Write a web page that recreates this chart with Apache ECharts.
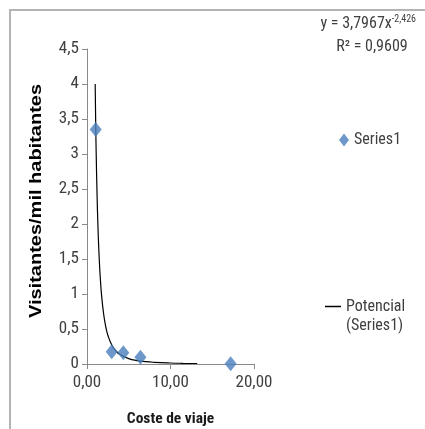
<!DOCTYPE html>
<html><head><meta charset="utf-8">
<script src="https://cdn.jsdelivr.net/npm/echarts@6/dist/echarts.min.js"></script>
<style>html,body{margin:0;padding:0;background:#fff}#c{width:425px;height:429px}</style>
</head><body><div id="c"></div>
<script>
// Observed data points (Coste de viaje, Visitantes/mil habitantes)
const costeViaje = [1.04, 2.96, 4.35, 6.4, 17.2];
const visitantes = [3.35, 0.176, 0.16, 0.095, 0.003];
// Points read along the "Potencial (Series1)" trend curve
const trendX = [0.98, 1.05, 1.1, 1.2, 1.3, 1.4, 1.5, 1.6, 1.75, 2, 2.25, 2.5, 3, 3.5, 4, 5, 6, 7, 8, 10, 11.5, 13.2];
const trendY = [4.0, 3.373, 3.013, 2.44, 2.009, 1.678, 1.42, 1.214, 0.977, 0.707, 0.531, 0.411, 0.264, 0.182, 0.1315, 0.0765, 0.0492, 0.0338, 0.0245, 0.01425, 0.0101, 0.0073];
const xTicks = [0, 10, 20];
const yTicks = [0, 0.5, 1, 1.5, 2, 2.5, 3, 3.5, 4, 4.5];
const equationText = ['y = 3,7967x', '-2,426', 'R² = 0,9609'];
const xTitle = 'Coste de viaje';
const yTitle = 'Visitantes/mil habitantes';

const chart = echarts.init(document.getElementById('c'), null, {renderer: 'canvas'});
const narrow = "'Roboto Condensed', 'Liberation Sans', sans-serif";
const comma = v => String(v).replace('.', ',');
const option = {
  animation: false,
  backgroundColor: '#fff',
  grid: {left: 87, right: 171, top: 49, bottom: 65, containLabel: false, outerBoundsMode: 'none'},
  xAxis: {
    type: 'value', min: xTicks[0], max: xTicks[xTicks.length - 1], interval: 10,
    name: xTitle, nameLocation: 'middle', nameGap: 47,
    nameTextStyle: {fontFamily: narrow, fontSize: 15.5, fontWeight: 'bold', color: '#1a1a1a'},
    axisLine: {show: true, lineStyle: {color: '#8a8a8a', width: 1}},
    axisTick: {show: true, inside: false, length: 5, lineStyle: {color: '#8a8a8a'}},
    axisLabel: {fontFamily: narrow, fontSize: 17, color: '#404040', margin: 10,
      formatter: v => v.toFixed(2).replace('.', ',')},
    splitLine: {show: false}
  },
  yAxis: {
    type: 'value', min: yTicks[0], max: yTicks[yTicks.length - 1], interval: 0.5,
    axisLine: {show: true, lineStyle: {color: '#8a8a8a', width: 1}},
    axisTick: {show: true, inside: false, length: 5, lineStyle: {color: '#8a8a8a'}},
    axisLabel: {fontFamily: narrow, fontSize: 17, color: '#404040', margin: 8, formatter: comma},
    splitLine: {show: false}
  },
  legend: [
    {data: [{name: 'Series1', icon: 'diamond'}], left: 334, top: 127, orient: 'vertical',
      itemWidth: 10, itemHeight: 13, itemGap: 4,
      textStyle: {fontFamily: narrow, fontSize: 16, color: '#404040'}},
    {data: [{name: 'Potencial (Series1)', icon: 'rect'}], left: 325, top: 278, orient: 'vertical',
      itemWidth: 16, itemHeight: 1.5, itemGap: 4, padding: 0,
      formatter: () => ' \nPotencial\n(Series1)',
      textStyle: {fontFamily: narrow, fontSize: 16, color: '#404040', lineHeight: 19}}
  ],
  graphic: [
    {type: 'polyline', shape: {points: [[10, 440], [10, 10], [440, 10]]},
      style: {stroke: '#b4b4b4', lineWidth: 2, fill: null}, silent: true},
    {type: 'text', x: 416, y: 14, style: {
      text: '{a|' + equationText[0] + '}{s|' + equationText[1] + '}', align: 'right',
      rich: {a: {fontFamily: narrow, fontSize: 16, fill: '#404040'},
             s: {fontFamily: narrow, fontSize: 10, fill: '#404040', verticalAlign: 'top', padding: [0, 0, 9, 0]}}}},
    {type: 'text', x: 372, y: 39, style: {text: equationText[2], align: 'center', fontFamily: narrow, fontSize: 16, fill: '#404040'}},
    {type: 'text', x: 37, y: 201, rotation: Math.PI / 2, scaleY: 0.8, style: {
      text: yTitle, align: 'center', verticalAlign: 'middle',
      fontFamily: "'Liberation Sans', Arial, sans-serif", fontSize: 20, fontWeight: 'bold', fill: '#000'}}
  ],
  series: [
    {name: 'Series1', type: 'scatter', symbol: 'diamond', symbolSize: [12, 15],
      itemStyle: {color: '#4a7ebb'}, data: costeViaje.map((x, i) => [x, visitantes[i]]), z: 3},
    {name: 'Potencial (Series1)', type: 'line', smooth: true, showSymbol: false,
      lineStyle: {color: '#000', width: 1.2}, itemStyle: {color: '#000'},
      data: trendX.map((x, i) => [x, trendY[i]]), z: 2}
  ]
};
chart.setOption(option);
</script></body></html>
